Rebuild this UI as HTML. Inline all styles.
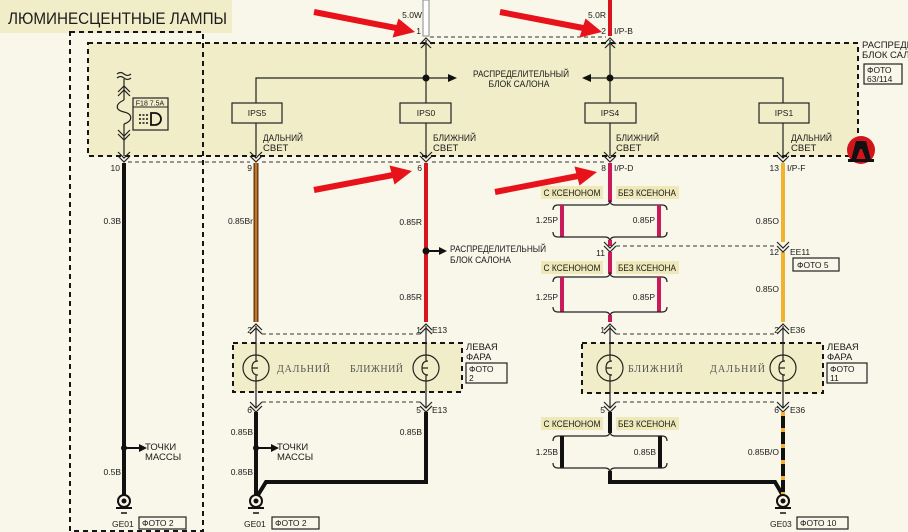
<!DOCTYPE html>
<html><head><meta charset="utf-8">
<style>
html,body{margin:0;padding:0;width:908px;height:532px;overflow:hidden;background:#f8f7e9;}
svg{display:block;}
text{font-family:"Liberation Sans","DejaVu Sans",sans-serif;fill:#1a1a1a;}
.s{font-size:9.5px;}
.g{font-size:8.5px;}
.lp{font-family:"Liberation Serif",serif;font-size:10px;fill:#555;letter-spacing:2px;}
.bd{fill:none;stroke:#151515;stroke-width:2;stroke-dasharray:5,4;}
.td{fill:none;stroke:#333;stroke-width:1;stroke-dasharray:4,3;}
.w{fill:none;stroke:#222;stroke-width:1.2;}
.ch{fill:none;stroke:#222;stroke-width:1.2;}
.bx{fill:none;stroke:#222;stroke-width:1.2;}
.blk{stroke:#111;stroke-width:4;fill:none;}
.red{stroke:#d8141f;stroke-width:4;}
.pk{stroke:#c91a5b;stroke-width:4;}
.hl{fill:#efe8b8;}
.ann{stroke:#e8121b;stroke-width:6;}
</style></head><body>
<svg width="908" height="532" viewBox="0 0 908 532" xmlns="http://www.w3.org/2000/svg">
<rect x="0" y="0" width="908" height="532" fill="#f8f7e9"/>

<!-- Title -->
<rect x="0" y="0" width="232" height="33" fill="#f1edc8"/>
<text x="8" y="24" font-size="16.5" textLength="219" lengthAdjust="spacingAndGlyphs">ЛЮМИНЕСЦЕНТНЫЕ ЛАМПЫ</text>

<!-- Big shaded distribution box -->
<rect x="88" y="43" width="770" height="113" fill="#f1edc8"/>
<rect x="88" y="43" width="770" height="113" class="bd"/>
<!-- Left dashed outline -->
<rect x="70" y="32" width="133" height="499" class="bd"/>

<!-- thin connector dashed lines -->
<line x1="430" y1="37" x2="606" y2="37" class="td"/>
<line x1="128" y1="162" x2="250" y2="162" class="td"/>
<line x1="262" y1="162" x2="420" y2="162" class="td"/>
<line x1="432" y1="162" x2="604" y2="162" class="td"/>

<!-- top wires -->
<rect x="423" y="0" width="6" height="36" fill="#ffffff" stroke="#8a8a8a" stroke-width="1"/>
<line x1="610" y1="0" x2="610" y2="36" class="red"/>
<text x="422" y="18" class="g" text-anchor="end">5.0W</text>
<text x="421" y="34" class="g" text-anchor="end">1</text>
<text x="606" y="18" class="g" text-anchor="end">5.0R</text>
<text x="606" y="34" class="g" text-anchor="end">2</text>
<text x="614" y="34" class="g">I/P-B</text>

<!-- top chevrons -->
<path d="M420,44 L426,38 L432,44 M421,48 L426,43 L431,48" class="ch"/>
<path d="M604,44 L610,38 L616,44 M605,48 L610,43 L615,48" class="ch"/>

<!-- inner wires -->
<line x1="426" y1="40" x2="426" y2="103" class="w"/>
<line x1="426" y1="123" x2="426" y2="156" class="w"/>
<line x1="610" y1="40" x2="610" y2="103" class="w"/>
<line x1="610" y1="123" x2="610" y2="156" class="w"/>
<polyline points="256,103 256,78 449,78" class="w"/>
<polygon points="448,74 457,78 448,82" fill="#111"/>
<polyline points="590,78 783,78 783,103" class="w"/>
<polygon points="591,74 582,78 591,82" fill="#111"/>
<line x1="256" y1="123" x2="256" y2="156" class="w"/>
<line x1="783" y1="123" x2="783" y2="156" class="w"/>
<circle cx="426" cy="78" r="3.5" fill="#111"/>
<circle cx="610" cy="78" r="3.5" fill="#111"/>
<text x="521" y="77" class="s" text-anchor="middle" textLength="96" lengthAdjust="spacingAndGlyphs">РАСПРЕДЕЛИТЕЛЬНЫЙ</text>
<text x="519" y="87" class="s" text-anchor="middle" textLength="61" lengthAdjust="spacingAndGlyphs">БЛОК САЛОНА</text>

<!-- IPS boxes -->
<rect x="232" y="103" width="50" height="20" class="bx"/>
<text x="257" y="116" class="g" text-anchor="middle">IPS5</text>
<rect x="400" y="103" width="51" height="20" class="bx"/>
<text x="426" y="116" class="g" text-anchor="middle">IPS0</text>
<rect x="585" y="103" width="51" height="20" class="bx"/>
<text x="610" y="116" class="g" text-anchor="middle">IPS4</text>
<rect x="759" y="103" width="50" height="20" class="bx"/>
<text x="784" y="116" class="g" text-anchor="middle">IPS1</text>

<text x="263" y="141" class="s" textLength="40" lengthAdjust="spacingAndGlyphs">ДАЛЬНИЙ</text>
<text x="263" y="151" class="s">СВЕТ</text>
<text x="433" y="141" class="s" textLength="43" lengthAdjust="spacingAndGlyphs">БЛИЖНИЙ</text>
<text x="433" y="151" class="s">СВЕТ</text>
<text x="616" y="141" class="s" textLength="43" lengthAdjust="spacingAndGlyphs">БЛИЖНИЙ</text>
<text x="616" y="151" class="s">СВЕТ</text>
<text x="791" y="141" class="s" textLength="41" lengthAdjust="spacingAndGlyphs">ДАЛЬНИЙ</text>
<text x="791" y="151" class="s">СВЕТ</text>

<!-- Fuse -->
<path d="M117,74 q3.5,-3 7,0 t7,0 M117,78 q3.5,-3 7,0 t7,0" class="w"/>
<line x1="124" y1="79" x2="124" y2="100" class="w"/>
<path d="M118,92 L124,86 L130,92 M118,96 L124,90 L130,96" class="ch"/>
<path d="M124,100 C115,104 115,110 124,112 C133,114 133,121 124,124" class="w"/>
<line x1="124" y1="124" x2="124" y2="156" class="w"/>
<path d="M118,130 L124,136 L130,130 M118,134 L124,140 L130,134" class="ch"/>
<rect x="133" y="98" width="35" height="32" class="bx" stroke-width="1.5"/>
<line x1="133" y1="107" x2="168" y2="107" stroke="#222" stroke-width="1"/>
<text x="150" y="105.5" font-size="7" text-anchor="middle">F18 7.5A</text>
<path d="M151,113 L155,113 A6,6 0 0 1 155,125 L151,125 Z" fill="none" stroke="#111" stroke-width="1.8"/>
<path d="M139,115 L148,115 M139,119 L148,119 M139,123 L148,123" stroke="#111" stroke-width="1.5" stroke-dasharray="2,1.5"/>

<!-- bottom-of-box chevrons -->
<path d="M118,152 L124,158 L130,152 M118,156 L124,162 L130,156" class="ch"/>
<path d="M250,152 L256,158 L262,152 M250,156 L256,162 L262,156" class="ch"/>
<path d="M420,152 L426,158 L432,152 M420,156 L426,162 L432,156" class="ch"/>
<path d="M604,152 L610,158 L616,152 M604,156 L610,162 L616,156" class="ch"/>
<path d="M777,152 L783,158 L789,152 M777,156 L783,162 L789,156" class="ch"/>

<!-- right side labels -->
<text x="862" y="48" class="s">РАСПРЕДЕЛИТЕЛЬНЫЙ</text>
<text x="862" y="58" class="s">БЛОК САЛОНА</text>
<rect x="864" y="64" width="38" height="20" class="bx"/>
<text x="867" y="73" class="g">ФОТО</text>
<text x="867" y="82" class="g">63/114</text>
<!-- logo -->
<circle cx="861" cy="150" r="14" fill="#d3141c"/>
<path d="M851,160 L856,141 L866,141 L871,160 L866,160 L862,149 L860,149 L856,160 Z" fill="#111"/>
<rect x="848" y="159" width="26" height="3" fill="#111"/>

<!-- pin labels under box -->
<text x="120" y="171" class="g" text-anchor="end">10</text>
<text x="252" y="171" class="g" text-anchor="end">9</text>
<text x="422" y="171" class="g" text-anchor="end">6</text>
<text x="606" y="171" class="g" text-anchor="end">8</text>
<text x="614" y="171" class="g">I/P-D</text>
<text x="779" y="171" class="g" text-anchor="end">13</text>
<text x="787" y="171" class="g">I/P-F</text>

<!-- column 124 black -->
<line x1="124" y1="163" x2="124" y2="495" class="blk"/>
<text x="121" y="224" class="g" text-anchor="end">0.3B</text>
<circle cx="124" cy="448" r="3" fill="#111"/>
<line x1="124" y1="448" x2="140" y2="448" stroke="#111" stroke-width="2"/>
<polygon points="139,444 147,448 139,452" fill="#111"/>
<text x="145" y="450" class="s">ТОЧКИ</text>
<text x="145" y="460" class="s">МАССЫ</text>
<text x="121" y="475" class="g" text-anchor="end">0.5B</text>

<!-- column 256 Br -->
<line x1="256" y1="163" x2="256" y2="322" stroke="#5a3410" stroke-width="5"/>
<line x1="256" y1="163" x2="256" y2="322" stroke="#c27528" stroke-width="2.5"/>
<text x="253" y="224" class="g" text-anchor="end">0.85Br</text>

<!-- column 426 red -->
<line x1="426" y1="163" x2="426" y2="322" class="red"/>
<text x="422" y="225" class="g" text-anchor="end">0.85R</text>
<text x="422" y="300" class="g" text-anchor="end">0.85R</text>
<circle cx="426" cy="251" r="3.5" fill="#111"/>
<line x1="426" y1="251" x2="440" y2="251" stroke="#111" stroke-width="2"/>
<polygon points="439,247 447,251 439,255" fill="#111"/>
<text x="450" y="252" class="s" textLength="96" lengthAdjust="spacingAndGlyphs">РАСПРЕДЕЛИТЕЛЬНЫЙ</text>
<text x="450" y="263" class="s" textLength="61" lengthAdjust="spacingAndGlyphs">БЛОК САЛОНА</text>

<!-- column 610 pink with xenon branches -->
<line x1="610" y1="163" x2="610" y2="202" class="pk"/>
<rect x="541" y="186" width="62" height="13" class="hl"/>
<text x="572" y="196" class="s" text-anchor="middle" textLength="57" lengthAdjust="spacingAndGlyphs">С КСЕНОНОМ</text>
<rect x="616" y="186" width="63" height="13" class="hl"/>
<text x="647" y="196" class="s" text-anchor="middle" textLength="58" lengthAdjust="spacingAndGlyphs">БЕЗ КСЕНОНА</text>
<path d="M553,210 Q553,205 558,205 L605,205 Q610,205 610,200 Q610,205 615,205 L662,205 Q667,205 667,210" class="w"/>
<line x1="562" y1="205" x2="562" y2="237" class="pk"/>
<line x1="659" y1="205" x2="659" y2="237" class="pk"/>
<path d="M553,232 Q553,237 558,237 L605,237 Q610,237 610,242 Q610,237 615,237 L662,237 Q667,237 667,232" class="w"/>
<text x="558" y="223" class="g" text-anchor="end">1.25P</text>
<text x="655" y="223" class="g" text-anchor="end">0.85P</text>
<line x1="610" y1="240" x2="610" y2="246" class="pk"/>
<path d="M604,242 L610,248 L616,242 M604,246 L610,252 L616,246" class="ch"/>
<text x="605" y="256" class="g" text-anchor="end">11</text>
<line x1="616" y1="246" x2="777" y2="246" class="td"/>
<line x1="610" y1="252" x2="610" y2="274" class="pk"/>
<rect x="541" y="261" width="62" height="13" class="hl"/>
<text x="572" y="271" class="s" text-anchor="middle" textLength="57" lengthAdjust="spacingAndGlyphs">С КСЕНОНОМ</text>
<rect x="616" y="261" width="63" height="13" class="hl"/>
<text x="647" y="271" class="s" text-anchor="middle" textLength="58" lengthAdjust="spacingAndGlyphs">БЕЗ КСЕНОНА</text>
<path d="M553,282 Q553,277 558,277 L605,277 Q610,277 610,272 Q610,277 615,277 L662,277 Q667,277 667,282" class="w"/>
<line x1="562" y1="277" x2="562" y2="312" class="pk"/>
<line x1="659" y1="277" x2="659" y2="312" class="pk"/>
<path d="M553,307 Q553,312 558,312 L605,312 Q610,312 610,317 Q610,312 615,312 L662,312 Q667,312 667,307" class="w"/>
<text x="558" y="300" class="g" text-anchor="end">1.25P</text>
<text x="655" y="300" class="g" text-anchor="end">0.85P</text>
<line x1="610" y1="315" x2="610" y2="322" class="pk"/>

<!-- column 783 orange -->
<line x1="783" y1="163" x2="783" y2="242" stroke="#f2b131" stroke-width="4"/>
<line x1="783" y1="252" x2="783" y2="322" stroke="#f2b131" stroke-width="4"/>
<path d="M777,242 L783,248 L789,242 M777,246 L783,252 L789,246" class="ch"/>
<text x="779" y="224" class="g" text-anchor="end">0.85O</text>
<text x="779" y="292" class="g" text-anchor="end">0.85O</text>
<text x="779" y="255" class="g" text-anchor="end">12</text>
<text x="790" y="255" class="g">EE11</text>
<rect x="793" y="258" width="46" height="13" class="bx"/>
<text x="797" y="268" class="g">ФОТО 5</text>

<!-- connectors above lamps -->
<line x1="262" y1="334" x2="420" y2="334" class="td"/>
<line x1="616" y1="334" x2="777" y2="334" class="td"/>
<path d="M250,330 L256,324 L262,330 M250,334 L256,328 L262,334" class="ch"/>
<path d="M420,330 L426,324 L432,330 M420,334 L426,328 L432,334" class="ch"/>
<path d="M604,330 L610,324 L616,330 M604,334 L610,328 L616,334" class="ch"/>
<path d="M777,330 L783,324 L789,330 M777,334 L783,328 L789,334" class="ch"/>
<text x="252" y="333" class="g" text-anchor="end">2</text>
<text x="421" y="333" class="g" text-anchor="end">1</text>
<text x="432" y="333" class="g">E13</text>
<text x="605" y="333" class="g" text-anchor="end">1</text>
<text x="779" y="333" class="g" text-anchor="end">2</text>
<text x="790" y="333" class="g">E36</text>

<!-- lamp blocks -->
<rect x="233" y="343" width="229" height="49" fill="#f1edc8"/>
<rect x="233" y="343" width="229" height="49" class="bd"/>
<rect x="582" y="343" width="241" height="50" fill="#f1edc8"/>
<rect x="582" y="343" width="241" height="50" class="bd"/>

<g class="w">
<line x1="256" y1="326" x2="256" y2="355"/><line x1="256" y1="381" x2="256" y2="408"/>
<line x1="426" y1="326" x2="426" y2="355"/><line x1="426" y1="381" x2="426" y2="408"/>
<line x1="610" y1="326" x2="610" y2="355"/><line x1="610" y1="381" x2="610" y2="408"/>
<line x1="783" y1="326" x2="783" y2="355"/><line x1="783" y1="381" x2="783" y2="408"/>
<circle cx="256" cy="368" r="13"/><circle cx="426" cy="368" r="13"/>
<circle cx="610" cy="368" r="13"/><circle cx="783" cy="368" r="13"/>
<path d="M258,361 Q252,361 252,368 Q252,375 258,375 M252,368 L258,368 M256,355 L256,361 M256,375 L256,381"/>
<path d="M428,361 Q422,361 422,368 Q422,375 428,375 M422,368 L428,368 M426,355 L426,361 M426,375 L426,381"/>
<path d="M612,361 Q606,361 606,368 Q606,375 612,375 M606,368 L612,368 M610,355 L610,361 M610,375 L610,381"/>
<path d="M785,361 Q779,361 779,368 Q779,375 785,375 M779,368 L785,368 M783,355 L783,361 M783,375 L783,381"/>
</g>
<text x="277" y="372" class="lp" textLength="55" lengthAdjust="spacing">ДАЛЬНИЙ</text>
<text x="350" y="372" class="lp" textLength="55" lengthAdjust="spacing">БЛИЖНИЙ</text>
<text x="628" y="372" class="lp" textLength="57" lengthAdjust="spacing">БЛИЖНИЙ</text>
<text x="710" y="372" class="lp" textLength="57" lengthAdjust="spacing">ДАЛЬНИЙ</text>

<text x="466" y="350" class="s">ЛЕВАЯ</text>
<text x="466" y="360" class="s">ФАРА</text>
<rect x="466" y="363" width="41" height="20" class="bx"/>
<text x="469" y="372" class="g">ФОТО</text>
<text x="469" y="381" class="g">2</text>
<text x="827" y="350" class="s">ЛЕВАЯ</text>
<text x="827" y="360" class="s">ФАРА</text>
<rect x="827" y="363" width="40" height="20" class="bx"/>
<text x="830" y="372" class="g">ФОТО</text>
<text x="830" y="381" class="g">11</text>

<!-- connectors below lamps -->
<line x1="262" y1="402" x2="420" y2="402" class="td"/>
<line x1="616" y1="402" x2="777" y2="402" class="td"/>
<path d="M250,402 L256,408 L262,402 M250,406 L256,412 L262,406" class="ch"/>
<path d="M420,402 L426,408 L432,402 M420,406 L426,412 L432,406" class="ch"/>
<path d="M604,402 L610,408 L616,402 M604,406 L610,412 L616,406" class="ch"/>
<path d="M777,402 L783,408 L789,402 M777,406 L783,412 L789,406" class="ch"/>
<text x="252" y="413" class="g" text-anchor="end">6</text>
<text x="421" y="413" class="g" text-anchor="end">5</text>
<text x="432" y="413" class="g">E13</text>
<text x="605" y="413" class="g" text-anchor="end">5</text>
<text x="779" y="413" class="g" text-anchor="end">6</text>
<text x="790" y="413" class="g">E36</text>

<!-- ground wires -->
<line x1="256" y1="412" x2="256" y2="495" class="blk"/>
<polyline points="426,412 426,482 266,482 258,495" class="blk"/>
<text x="253" y="435" class="g" text-anchor="end">0.85B</text>
<text x="253" y="475" class="g" text-anchor="end">0.85B</text>
<text x="422" y="435" class="g" text-anchor="end">0.85B</text>
<circle cx="256" cy="448" r="3" fill="#111"/>
<line x1="256" y1="448" x2="272" y2="448" stroke="#111" stroke-width="2"/>
<polygon points="271,444 279,448 271,452" fill="#111"/>
<text x="277" y="450" class="s">ТОЧКИ</text>
<text x="277" y="460" class="s">МАССЫ</text>

<line x1="610" y1="412" x2="610" y2="433" class="blk"/>
<rect x="541" y="417" width="62" height="13" class="hl"/>
<text x="572" y="427" class="s" text-anchor="middle" textLength="57" lengthAdjust="spacingAndGlyphs">С КСЕНОНОМ</text>
<rect x="616" y="417" width="63" height="13" class="hl"/>
<text x="647" y="427" class="s" text-anchor="middle" textLength="58" lengthAdjust="spacingAndGlyphs">БЕЗ КСЕНОНА</text>
<path d="M553,441 Q553,436 558,436 L605,436 Q610,436 610,431 Q610,436 615,436 L662,436 Q667,436 667,441" class="w"/>
<line x1="562" y1="436" x2="562" y2="468" class="blk"/>
<line x1="660" y1="436" x2="660" y2="468" class="blk"/>
<path d="M553,463 Q553,468 558,468 L605,468 Q610,468 610,473 Q610,468 615,468 L662,468 Q667,468 667,463" class="w"/>
<text x="558" y="455" class="g" text-anchor="end">1.25B</text>
<text x="656" y="455" class="g" text-anchor="end">0.85B</text>
<polyline points="610,471 610,482 775,482 782,494" class="blk"/>

<line x1="783" y1="412" x2="783" y2="494" stroke="#f2b131" stroke-width="4"/>
<line x1="783" y1="416" x2="783" y2="494" stroke="#111" stroke-width="4" stroke-dasharray="12,4"/>
<text x="779" y="455" class="g" text-anchor="end">0.85B/O</text>

<!-- ground symbols -->
<g>
<circle cx="124" cy="501" r="6" fill="#f8f7e9" stroke="#111" stroke-width="2"/><circle cx="124" cy="501" r="2.5" fill="#111"/>
<line x1="116" y1="508" x2="132" y2="508" stroke="#111" stroke-width="2"/><line x1="121" y1="513" x2="127" y2="513" stroke="#111" stroke-width="1.5"/>
<circle cx="256" cy="501" r="6" fill="#f8f7e9" stroke="#111" stroke-width="2"/><circle cx="256" cy="501" r="2.5" fill="#111"/>
<line x1="248" y1="508" x2="264" y2="508" stroke="#111" stroke-width="2"/><line x1="253" y1="513" x2="259" y2="513" stroke="#111" stroke-width="1.5"/>
<circle cx="783" cy="501" r="6" fill="#f8f7e9" stroke="#111" stroke-width="2"/><circle cx="783" cy="501" r="2.5" fill="#111"/>
<line x1="775" y1="508" x2="791" y2="508" stroke="#111" stroke-width="2"/><line x1="780" y1="513" x2="786" y2="513" stroke="#111" stroke-width="1.5"/>
</g>
<text x="112" y="527" class="g">GE01</text>
<rect x="139" y="517" width="47" height="12" class="bx"/>
<text x="142" y="526" class="g">ФОТО 2</text>
<text x="244" y="527" class="g">GE01</text>
<rect x="272" y="517" width="47" height="12" class="bx"/>
<text x="275" y="526" class="g">ФОТО 2</text>
<text x="770" y="527" class="g">GE03</text>
<rect x="797" y="517" width="51" height="12" class="bx"/>
<text x="800" y="526" class="g">ФОТО 10</text>

<!-- red annotation arrows -->
<line x1="314" y1="12" x2="396" y2="28" class="ann"/>
<polygon points="415,32 392.5,37.5 398.5,18.5" fill="#e8121b"/>
<line x1="500" y1="12" x2="583" y2="28" class="ann"/>
<polygon points="602,32 579.5,37.5 585.5,18.5" fill="#e8121b"/>
<line x1="314" y1="190" x2="393" y2="175" class="ann"/>
<polygon points="412,171 394.5,184.5 389.5,165.5" fill="#e8121b"/>
<line x1="495" y1="192" x2="578" y2="176" class="ann"/>
<polygon points="597,172 579.5,185.5 574.5,166.5" fill="#e8121b"/>
</svg>
</body></html>
